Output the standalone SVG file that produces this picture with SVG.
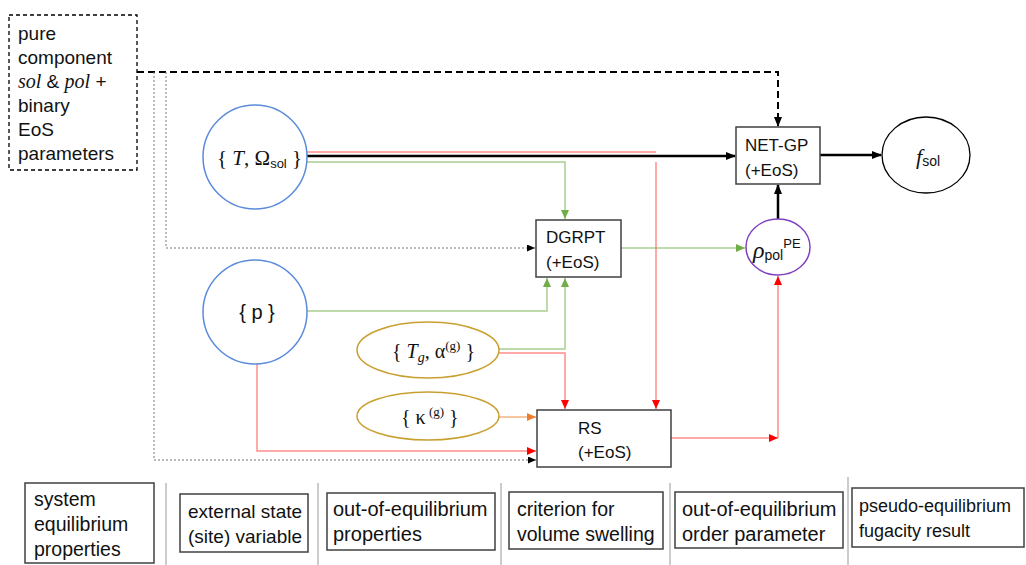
<svg xmlns="http://www.w3.org/2000/svg" width="1026" height="565" viewBox="0 0 1026 565">
<style>
.sans{font-family:"Liberation Sans",Arial,sans-serif;fill:#111}
.serif{font-family:"Liberation Serif","Times New Roman",serif;fill:#111}
.box{fill:#fff;stroke:#404040;stroke-width:1.5}
.blue{fill:#fff;stroke:#5B8BDA;stroke-width:1.5}
.gold{fill:#fff;stroke:#C9A030;stroke-width:1.5}
.red{fill:none;stroke:#FF3030;stroke-opacity:0.55;stroke-width:1.5}
.green{fill:none;stroke:#70AD47;stroke-opacity:0.6;stroke-width:1.5}
.orange{fill:none;stroke:#F08030;stroke-opacity:0.6;stroke-width:1.5}
.blk{fill:none;stroke:#000;stroke-width:2.5}
.dash{fill:none;stroke:#000;stroke-width:2;stroke-dasharray:7,4}
.dot{fill:none;stroke:#777;stroke-width:1;stroke-dasharray:2,2}
.sep{stroke:#999;stroke-width:1}
</style>
<defs>
<marker id="aK" markerWidth="10" markerHeight="8" refX="9" refY="4" orient="auto" markerUnits="userSpaceOnUse"><path d="M0,0 L10,4 L0,8 Z" fill="#000"/></marker>
<marker id="aKs" markerWidth="8" markerHeight="7" refX="8" refY="3.5" orient="auto" markerUnits="userSpaceOnUse"><path d="M0,0 L8,3.5 L0,7 Z" fill="#000"/></marker>
<marker id="aR" markerWidth="9" markerHeight="8" refX="9" refY="4" orient="auto" markerUnits="userSpaceOnUse"><path d="M0,0 L9,4 L0,8 Z" fill="#FF0000"/></marker>
<marker id="aG" markerWidth="9" markerHeight="8" refX="9" refY="4" orient="auto" markerUnits="userSpaceOnUse"><path d="M0,0 L9,4 L0,8 Z" fill="#70AD47"/></marker>
<marker id="aO" markerWidth="9" markerHeight="8" refX="9" refY="4" orient="auto" markerUnits="userSpaceOnUse"><path d="M0,0 L9,4 L0,8 Z" fill="#ED7D31"/></marker>
</defs>

<g id="connectors">
<path class="dash" d="M137,72 H778 V126" marker-end="url(#aK)"/>
<path class="dot" d="M154,72 V460 H536" marker-end="url(#aKs)"/>
<path class="dot" d="M166,72 V248 H535" marker-end="url(#aKs)"/>
<path class="red" d="M307,152 H656"/>
<path class="red" d="M656,162 V409" marker-end="url(#aR)"/>
<path class="blk" d="M307,156 H735" marker-end="url(#aK)"/>
<path class="green" d="M306,162 H565 V219" marker-end="url(#aG)"/>
<path class="green" d="M307,311 H547 V278" marker-end="url(#aG)"/>
<path class="green" d="M499,349 H565 V278" marker-end="url(#aG)"/>
<path class="red" d="M499,353 H565 V409" marker-end="url(#aR)"/>
<path class="orange" d="M499,417 H536" marker-end="url(#aO)"/>
<path class="red" d="M257,364 V451 H536" marker-end="url(#aR)"/>
<path class="red" d="M671,438 H778" marker-end="url(#aR)"/>
<path class="red" d="M778,438 V276" marker-end="url(#aR)"/>
<path class="green" d="M621,248 H745" marker-end="url(#aG)"/>
<path class="blk" d="M778,219 V185" marker-end="url(#aK)"/>
<path class="blk" d="M820,155 H881" marker-end="url(#aK)"/>
</g>

<g id="params">
<rect x="9" y="15" width="128" height="155" fill="#fff" stroke="#000" stroke-width="1.3" stroke-dasharray="4,3"/>
<text class="sans" font-size="19" x="18" y="40">pure</text>
<text class="sans" font-size="19" x="18" y="64">component</text>
<text class="serif" font-size="20" x="18" y="88"><tspan font-style="italic">sol</tspan><tspan class="sans" font-size="19"> &amp; </tspan><tspan font-style="italic">pol</tspan><tspan class="sans" font-size="19"> +</tspan></text>
<text class="sans" font-size="19" x="18" y="112">binary</text>
<text class="sans" font-size="19" x="18" y="136">EoS</text>
<text class="sans" font-size="19" x="18" y="160">parameters</text>
</g>

<g id="T-omega">
<circle class="blue" cx="255" cy="157" r="52"/>
<text class="serif" font-size="21" x="217" y="165">{ <tspan font-style="italic">T</tspan>, Ω<tspan class="sans" font-size="13" dy="3">sol</tspan><tspan dy="-3"> }</tspan></text>
</g>

<g id="p">
<circle class="blue" cx="255" cy="312" r="52"/>
<text class="sans" font-size="20" x="257" y="319" text-anchor="middle">{ p }</text>
</g>

<g id="Tg-alpha">
<ellipse class="gold" cx="428" cy="350" rx="71" ry="28"/>
<text class="serif" font-size="20" x="392" y="358">{ <tspan font-style="italic">T</tspan><tspan font-style="italic" font-size="14" dy="4">g</tspan><tspan dy="-4">, α</tspan><tspan font-size="13" dy="-8">(g)</tspan><tspan dy="8"> }</tspan></text>
</g>

<g id="kappa">
<ellipse class="gold" cx="428" cy="416" rx="71" ry="24"/>
<text class="serif" font-size="20" x="401" y="424">{ κ<tspan font-size="13" dy="-8"> (g)</tspan><tspan dy="8"> }</tspan></text>
</g>

<g id="DGRPT">
<rect class="box" x="536" y="220" width="85" height="57"/>
<text class="sans" font-size="17" x="546" y="243">DGRPT</text>
<text class="sans" font-size="17" x="546" y="268">(+EoS)</text>
</g>

<g id="RS">
<rect class="box" x="537" y="410" width="134" height="57"/>
<text class="sans" font-size="17" x="578" y="434">RS</text>
<text class="sans" font-size="17" x="578" y="458">(+EoS)</text>
</g>

<g id="NET-GP">
<rect class="box" x="736" y="127" width="84" height="57"/>
<text class="sans" font-size="17" x="745" y="151">NET-GP</text>
<text class="sans" font-size="17" x="745" y="176">(+EoS)</text>
</g>

<g id="rho">
<ellipse cx="778" cy="247" rx="32" ry="28" fill="#fff" stroke="#8040C0" stroke-width="1.5"/>
<text class="serif" font-size="24" font-style="italic" x="753" y="258">ρ<tspan class="sans" font-style="normal" font-size="14" dy="2">pol</tspan><tspan class="sans" font-style="normal" font-size="13" dy="-12">PE</tspan></text>
</g>

<g id="fsol">
<ellipse cx="926" cy="155" rx="44" ry="38" fill="#fff" stroke="#000" stroke-width="1.3"/>
<text class="serif" font-size="22" font-style="italic" x="916" y="164">f<tspan class="sans" font-style="normal" font-size="14" dy="2">sol</tspan></text>
</g>

<g id="legend">
<line class="sep" x1="166" y1="483" x2="166" y2="565"/>
<line class="sep" x1="318" y1="483" x2="318" y2="565"/>
<line class="sep" x1="501" y1="483" x2="501" y2="565"/>
<line class="sep" x1="670" y1="483" x2="670" y2="565"/>
<line class="sep" x1="848" y1="477" x2="848" y2="565"/>
<rect class="box" x="25" y="483" width="129" height="80"/>
<text class="sans" font-size="19.5" x="34" y="506">system</text>
<text class="sans" font-size="19.5" x="34" y="531">equilibrium</text>
<text class="sans" font-size="19.5" x="34" y="556">properties</text>
<rect class="box" x="180" y="494" width="128" height="58"/>
<text class="sans" font-size="19" x="188" y="518">external state</text>
<text class="sans" font-size="19" x="188" y="543">(site) variable</text>
<rect class="box" x="327" y="493" width="168" height="57"/>
<text class="sans" font-size="20" x="333" y="516">out-of-equilibrium</text>
<text class="sans" font-size="20" x="333" y="541">properties</text>
<rect class="box" x="509" y="492" width="154" height="57"/>
<text class="sans" font-size="19.5" x="517" y="516">criterion for</text>
<text class="sans" font-size="19.5" x="517" y="541">volume swelling</text>
<rect class="box" x="675" y="492" width="168" height="56"/>
<text class="sans" font-size="20" x="682" y="516">out-of-equilibrium</text>
<text class="sans" font-size="20" x="682" y="541">order parameter</text>
<rect class="box" x="852" y="488" width="172" height="59"/>
<text class="sans" font-size="18" x="859" y="512">pseudo-equilibrium</text>
<text class="sans" font-size="18" x="859" y="537">fugacity result</text>
</g>
</svg>
